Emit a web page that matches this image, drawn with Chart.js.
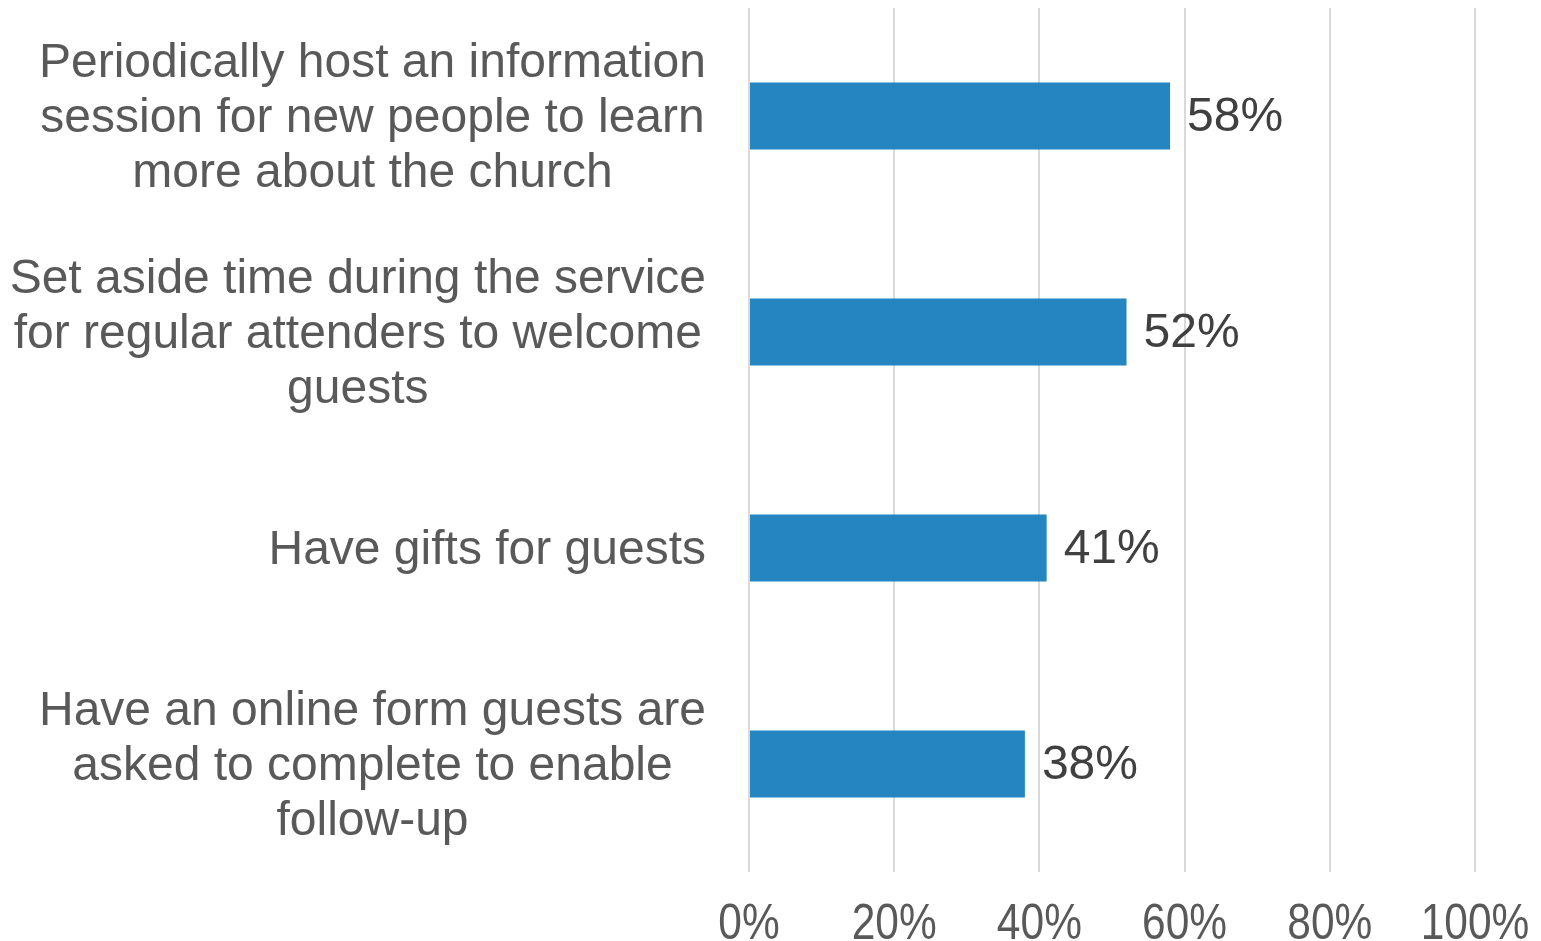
<!DOCTYPE html>
<html>
<head>
<meta charset="utf-8">
<script src="https://cdn.jsdelivr.net/npm/chart.js@4"></script>
<style>
  html, body { margin: 0; padding: 0; background: #fff; }
  canvas { display: block; }
</style>
</head>
<body>
<canvas id="barChart" width="1541" height="941"></canvas>
<script>
const categories = [
  ['Periodically host an information', 'session for new people to learn', 'more about the church'],
  ['Set aside time during the service', 'for regular attenders to welcome', 'guests'],
  ['Have gifts for guests'],
  ['Have an online form guests are', 'asked to complete to enable', 'follow-up']
];
const percentages = [58, 52, 41, 38];
const xTicks = [0, 20, 40, 60, 80, 100];

// category labels: each block centred on its widest line, right edge near the axis
const categoryLabels = {
  id: 'categoryLabels',
  afterDraw(chart) {
    const ctx = chart.ctx;
    const yScale = chart.scales.y;
    ctx.save();
    ctx.font = '48px "Liberation Sans", Arial, sans-serif';
    ctx.fillStyle = '#595959';
    ctx.textAlign = 'center';
    ctx.textBaseline = 'middle';
    const right = 706;
    const lineH = 55;
    categories.forEach((lines, i) => {
      const maxW = Math.max(...lines.map(l => ctx.measureText(l).width));
      const cx = right - maxW / 2;
      const cy = yScale.getPixelForValue(i) + 3;
      const startY = cy - (lines.length - 1) * lineH / 2;
      lines.forEach((l, j) => ctx.fillText(l, cx, startY + j * lineH));
    });
    ctx.restore();
  }
};

// x tick labels, drawn slightly condensed like the original
const xTickLabels = {
  id: 'xTickLabels',
  afterDraw(chart) {
    const ctx = chart.ctx;
    const xScale = chart.scales.x;
    ctx.save();
    ctx.font = '50px "Liberation Sans", Arial, sans-serif';
    ctx.fillStyle = '#595959';
    ctx.textAlign = 'center';
    ctx.textBaseline = 'top';
    const sx = 0.85;
    xTicks.forEach(v => {
      const px = xScale.getPixelForValue(v);
      ctx.save();
      ctx.translate(px, 900);
      ctx.scale(sx, 1);
      ctx.fillText(v + '%', 0, 0);
      ctx.restore();
    });
    ctx.restore();
  }
};

const valueLabels = {
  id: 'valueLabels',
  afterDatasetsDraw(chart) {
    const ctx = chart.ctx;
    const meta = chart.getDatasetMeta(0);
    ctx.save();
    ctx.font = '48px "Liberation Sans", Arial, sans-serif';
    ctx.fillStyle = '#404040';
    ctx.textAlign = 'left';
    ctx.textBaseline = 'middle';
    meta.data.forEach((bar, i) => {
      ctx.fillText(percentages[i] + '%', bar.x + 17, bar.y + 2);
    });
    ctx.restore();
  }
};

const ctx = document.getElementById('barChart').getContext('2d');
new Chart(ctx, {
  type: 'bar',
  data: {
    labels: categories.map(c => c.join(' ')),
    datasets: [{
      data: percentages,
      backgroundColor: '#2585C0',
      barPercentage: 0.31,
      categoryPercentage: 1
    }]
  },
  options: {
    indexAxis: 'y',
    responsive: false,
    animation: false,
    layout: { padding: { left: 749, right: 66, top: 8, bottom: 0 } },
    plugins: {
      legend: { display: false },
      tooltip: { enabled: false }
    },
    scales: {
      x: {
        min: 0,
        max: 100,
        afterBuildTicks: (scale) => { scale.ticks = xTicks.map(v => ({ value: v })); },
        afterFit: (scale) => { scale.height = 69; },
        grid: { color: '#d9d9d9', lineWidth: 2, drawTicks: false },
        border: { display: false },
        ticks: { display: false }
      },
      y: {
        display: false,
        offset: true
      }
    }
  },
  plugins: [categoryLabels, valueLabels, xTickLabels]
});
</script>
</body>
</html>
